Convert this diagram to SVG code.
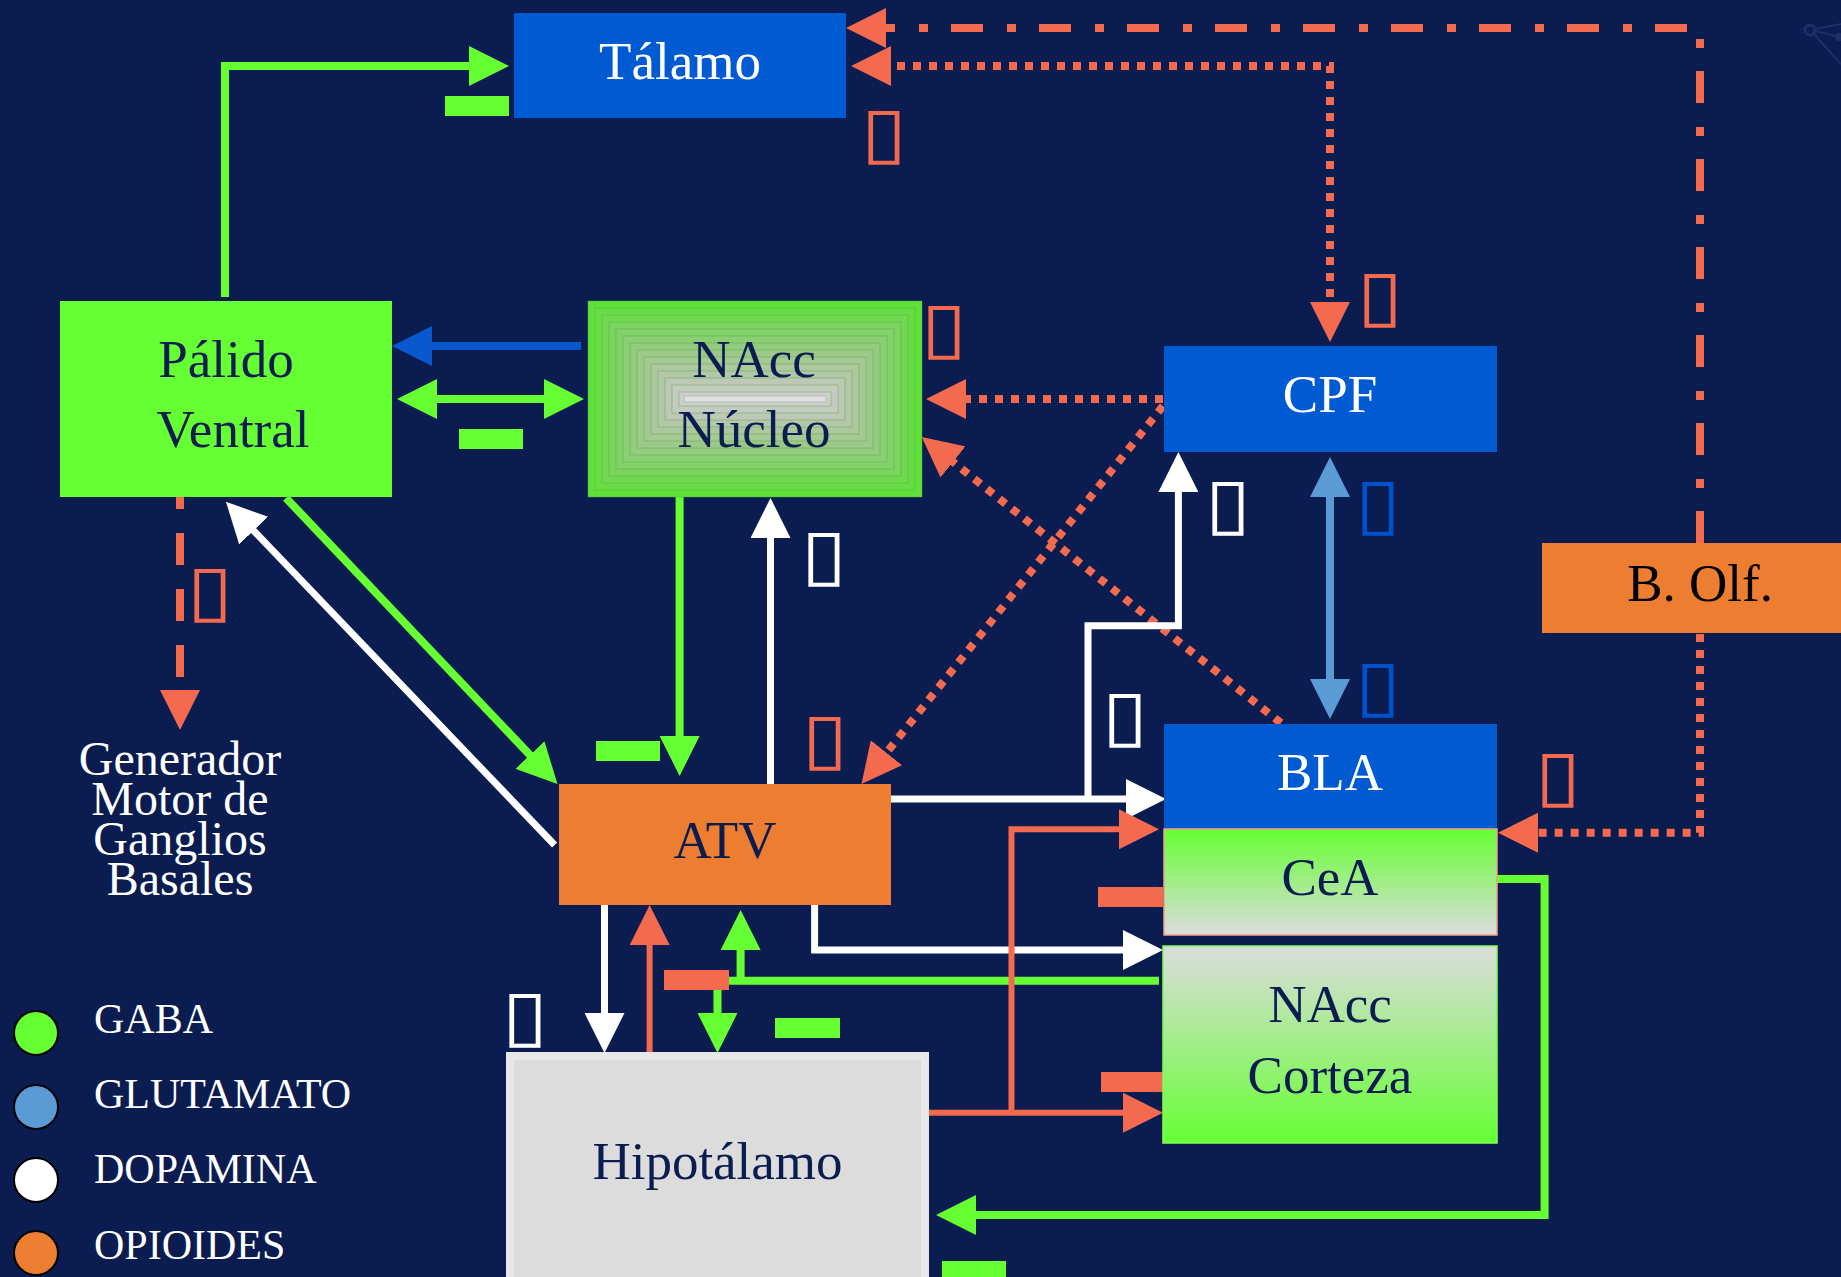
<svg xmlns="http://www.w3.org/2000/svg" width="1841" height="1277" viewBox="0 0 1841 1277">
<style>
.lbl{font-family:"Liberation Serif","Times New Roman",serif;font-size:53px;text-anchor:middle}
.gen{font-family:"Liberation Serif","Times New Roman",serif;font-size:48px;text-anchor:middle;fill:#ffffff}
.dark{fill:#0a1c50}
.wt{fill:#ffffff}
.leg{font-family:"Liberation Serif","Times New Roman",serif;font-size:42px;fill:#ffffff}
.tofu{font-family:"DejaVu Sans",sans-serif;font-size:70px;text-anchor:middle}
.t-red{fill:#f36a4e}.t-wt{fill:#ffffff}.t-bl{fill:#0052cc}
.c{fill:none}
.g{stroke:#66ff33;stroke-width:8}
.w{stroke:#ffffff;stroke-width:7}
.r{stroke:#f36a4e;stroke-width:8}
.rt{stroke:#f36a4e;stroke-width:6}
.b{stroke:#0a58d0;stroke-width:8}
.lb{stroke:#5b9bd5;stroke-width:8}
.dot{stroke-dasharray:8 8}
.minus-g{fill:#66ff33}
.minus-r{fill:#f36a4e}
.lay{stroke:#4fae3c;stroke-opacity:0.45;stroke-width:1}
</style>
<defs>
<marker id="mg" viewBox="0 0 40 40" refX="10" refY="20" markerWidth="40" markerHeight="40" markerUnits="userSpaceOnUse" orient="auto-start-reverse"><path d="M0,0 L40,20 L0,40 z" fill="#66ff33"/></marker>
<marker id="mw" viewBox="0 0 40 40" refX="10" refY="20" markerWidth="40" markerHeight="40" markerUnits="userSpaceOnUse" orient="auto-start-reverse"><path d="M0,0 L40,20 L0,40 z" fill="#ffffff"/></marker>
<marker id="mr" viewBox="0 0 40 40" refX="10" refY="20" markerWidth="40" markerHeight="40" markerUnits="userSpaceOnUse" orient="auto-start-reverse"><path d="M0,0 L40,20 L0,40 z" fill="#f36a4e"/></marker>
<marker id="mb" viewBox="0 0 40 40" refX="10" refY="20" markerWidth="40" markerHeight="40" markerUnits="userSpaceOnUse" orient="auto-start-reverse"><path d="M0,0 L40,20 L0,40 z" fill="#0a58d0"/></marker>
<marker id="mlb" viewBox="0 0 40 40" refX="10" refY="20" markerWidth="40" markerHeight="40" markerUnits="userSpaceOnUse" orient="auto-start-reverse"><path d="M0,0 L40,20 L0,40 z" fill="#5b9bd5"/></marker>
<linearGradient id="gCeA" x1="0" y1="0" x2="0" y2="1"><stop offset="0" stop-color="#66ff33"/><stop offset="1" stop-color="#dcdcdc"/></linearGradient>
<linearGradient id="gCor" x1="0" y1="0" x2="0" y2="1"><stop offset="0" stop-color="#dcdcdc"/><stop offset="1" stop-color="#66ff33"/></linearGradient>
</defs>
<rect x="0" y="0" width="1841" height="1277" fill="#0a1c50"/>
<g id="decor" stroke="#1c3066" fill="none" stroke-width="2">
<circle cx="1810" cy="30" r="5" stroke-width="3"/>
<path d="M1815,29 L1841,24 M1815,31 L1836,36 M1814,34 L1841,64"/>
<circle cx="1839" cy="37" r="4" fill="#1c3066" stroke="none"/>
</g>

<g id="connectors" class="c">
<path class="g" d="M225,297 V66 H479" marker-end="url(#mg)"/>
<path class="b" d="M581,346 H422" marker-end="url(#mb)"/>
<path class="g" d="M427,399 H554" marker-start="url(#mg)" marker-end="url(#mg)"/>
<path class="r" d="M1700,543 V28 H876" stroke-dasharray="32 23 9 24" marker-end="url(#mr)"/>
<path class="r dot" d="M881,66 H1330 V312" marker-start="url(#mr)" marker-end="url(#mr)"/>
<path class="r dot" d="M1163,399 H956" marker-end="url(#mr)"/>
<path class="r dot" d="M1163,406 L880.2,760.5" marker-end="url(#mr)"/>
<path class="r dot" d="M1281,723 L945.2,455.7" marker-end="url(#mr)"/>
<path class="r" d="M180,497 V700" stroke-dasharray="32 24" stroke-dashoffset="20" marker-end="url(#mr)"/>
<path class="w" d="M554.6,845 L246.7,523.4" marker-end="url(#mw)"/>
<path class="g" d="M286,498 L536.8,762.2" marker-end="url(#mg)"/>
<path class="g" d="M679.6,497 V746" marker-end="url(#mg)"/>
<path class="w" d="M770.5,784 V528" marker-end="url(#mw)"/>
<path class="w" d="M891,799 H1136" marker-end="url(#mw)"/>
<path class="w" d="M1088,799 V625.7 H1178.4 V482" marker-end="url(#mw)"/>
<path class="lb" d="M1330,487 V689" marker-start="url(#mlb)" marker-end="url(#mlb)"/>
<path class="r dot" d="M1700,634 V832.7 H1528" marker-end="url(#mr)"/>
<path class="w" d="M604.5,905 V1023" marker-end="url(#mw)"/>
<path class="rt" d="M649.6,1052 V935" marker-end="url(#mr)"/>
<path class="g" stroke-width="7" d="M740.6,980.7 V940" marker-end="url(#mg)"/>
<path class="g" stroke-width="7" d="M1159,980.7 H717.5 V1023" marker-end="url(#mg)"/>
<path class="w" d="M814.6,905 V950 H1133" marker-end="url(#mw)"/>
<path class="rt" d="M928,1112.7 H1133" marker-end="url(#mr)"/>
<path class="rt" d="M1011.5,1112.7 V829.3 H1129" marker-end="url(#mr)"/>
<path class="g" d="M1497,879 H1544.6 V1215 H966" marker-end="url(#mg)"/>
<rect class="minus-g" x="445" y="96" width="64" height="20"/>
<rect class="minus-g" x="459" y="429" width="64" height="20"/>
<rect class="minus-g" x="596" y="741" width="64" height="20"/>
<rect class="minus-g" x="775" y="1018" width="65" height="20"/>
<rect class="minus-g" x="942" y="1261" width="64" height="20"/>
<rect class="minus-r" x="664" y="970" width="65" height="20"/>
<rect class="minus-r" x="1098" y="887" width="65" height="20"/>
<rect class="minus-r" x="1101" y="1072" width="65" height="20"/>
</g>

<g id="talamo">
<rect x="514" y="13" width="332" height="105" fill="#005bd3"/>
<text class="lbl wt" x="680" y="79">Tálamo</text>
</g>
<g id="palido">
<rect x="60" y="301" width="332" height="196" fill="#66ff33"/>
<text class="lbl dark" x="226" y="377">Pálido</text>
<text class="lbl dark" x="233" y="447">Ventral</text>
</g>
<g id="nacc-nucleo">
<rect class="lay" x="588" y="301" width="334" height="196" fill="#5fe137"/>
<rect class="lay" x="595" y="308" width="320" height="182" fill="#68dc45"/>
<rect class="lay" x="602" y="315" width="306" height="168" fill="#71d852"/>
<rect class="lay" x="609" y="322" width="292" height="154" fill="#7ad45e"/>
<rect class="lay" x="616" y="329" width="278" height="140" fill="#82d169"/>
<rect class="lay" x="623" y="336" width="264" height="126" fill="#8bce74"/>
<rect class="lay" x="630" y="343" width="250" height="112" fill="#94cb7f"/>
<rect class="lay" x="637" y="350" width="236" height="98" fill="#9cc98a"/>
<rect class="lay" x="644" y="357" width="222" height="84" fill="#a5c895"/>
<rect class="lay" x="651" y="364" width="208" height="70" fill="#adc79f"/>
<rect class="lay" x="658" y="371" width="194" height="56" fill="#b5c7aa"/>
<rect class="lay" x="665" y="378" width="180" height="42" fill="#bdc8b6"/>
<rect class="lay" x="672" y="385" width="166" height="28" fill="#c5cac2"/>
<rect class="lay" x="679" y="392" width="152" height="14" fill="#cdcfcd"/>
<rect x="684" y="396" width="142" height="6" fill="#e0e0e0" stroke="#b8bcb8" stroke-width="1"/>
<text class="lbl dark" x="754" y="377">NAcc</text>
<text class="lbl dark" x="754" y="447">Núcleo</text>
</g>
<g id="cpf">
<rect x="1164" y="346" width="333" height="106" fill="#005bd3"/>
<text class="lbl wt" x="1330" y="412">CPF</text>
</g>
<g id="bolf">
<rect x="1542" y="543" width="310" height="90" fill="#ed7d31"/>
<text class="lbl" x="1700" y="601" fill="#000000">B. Olf.</text>
</g>
<g id="atv">
<rect x="559" y="784" width="332" height="121" fill="#ed7d31"/>
<text class="lbl dark" x="725" y="858">ATV</text>
</g>
<g id="bla">
<rect x="1164" y="724" width="333" height="105" fill="#005bd3"/>
<text class="lbl wt" x="1330" y="790">BLA</text>
</g>
<g id="cea">
<rect x="1164" y="829" width="333" height="106" fill="url(#gCeA)" stroke="#f4a08a" stroke-width="1.5"/>
<text class="lbl dark" x="1330" y="895">CeA</text>
</g>
<g id="nacc-corteza">
<rect x="1163" y="946" width="334" height="197" fill="url(#gCor)" stroke="#7dff55" stroke-width="1.5"/>
<text class="lbl dark" x="1330" y="1022">NAcc</text>
<text class="lbl dark" x="1330" y="1093">Corteza</text>
</g>
<g id="hipotalamo">
<rect x="510" y="1056" width="415" height="240" fill="#dcdcdc" stroke="#e8e8e8" stroke-width="8"/>
<text class="lbl dark" x="717.5" y="1179">Hipotálamo</text>
</g>
<g id="generador">
<text class="gen" x="180" y="775">Generador<tspan x="180" dy="40">Motor de</tspan><tspan x="180" dy="40">Ganglios</tspan><tspan x="180" dy="40">Basales</tspan></text>
</g>
<g id="signs">
<text class="tofu t-red" transform="translate(884,156) scale(1.2,1)">▯</text>
<text class="tofu t-red" transform="translate(1380,319) scale(1.2,1)">▯</text>
<text class="tofu t-red" transform="translate(944,351) scale(1.2,1)">▯</text>
<text class="tofu t-red" transform="translate(210,614) scale(1.2,1)">▯</text>
<text class="tofu t-wt" transform="translate(824,578) scale(1.2,1)">▯</text>
<text class="tofu t-red" transform="translate(825,762) scale(1.2,1)">▯</text>
<text class="tofu t-wt" transform="translate(1228,527) scale(1.2,1)">▯</text>
<text class="tofu t-bl" transform="translate(1378,527) scale(1.2,1)">▯</text>
<text class="tofu t-bl" transform="translate(1378,709) scale(1.2,1)">▯</text>
<text class="tofu t-wt" transform="translate(1125,739) scale(1.2,1)">▯</text>
<text class="tofu t-red" transform="translate(1558,799) scale(1.2,1)">▯</text>
<text class="tofu t-wt" transform="translate(525,1039) scale(1.2,1)">▯</text>
</g>
<g id="legend">
<circle cx="36" cy="1033" r="22" fill="#66ff33" stroke="#000" stroke-width="2"/>
<circle cx="36" cy="1107" r="22" fill="#5b9bd5" stroke="#000" stroke-width="2"/>
<circle cx="36" cy="1180" r="22" fill="#ffffff" stroke="#000" stroke-width="2"/>
<circle cx="36" cy="1253" r="22" fill="#ed7d31" stroke="#000" stroke-width="2"/>
<text class="leg" x="94" y="1033">GABA</text>
<text class="leg" x="94" y="1108">GLUTAMATO</text>
<text class="leg" x="94" y="1183">DOPAMINA</text>
<text class="leg" x="94" y="1259">OPIOIDES</text>
</g>
</svg>
